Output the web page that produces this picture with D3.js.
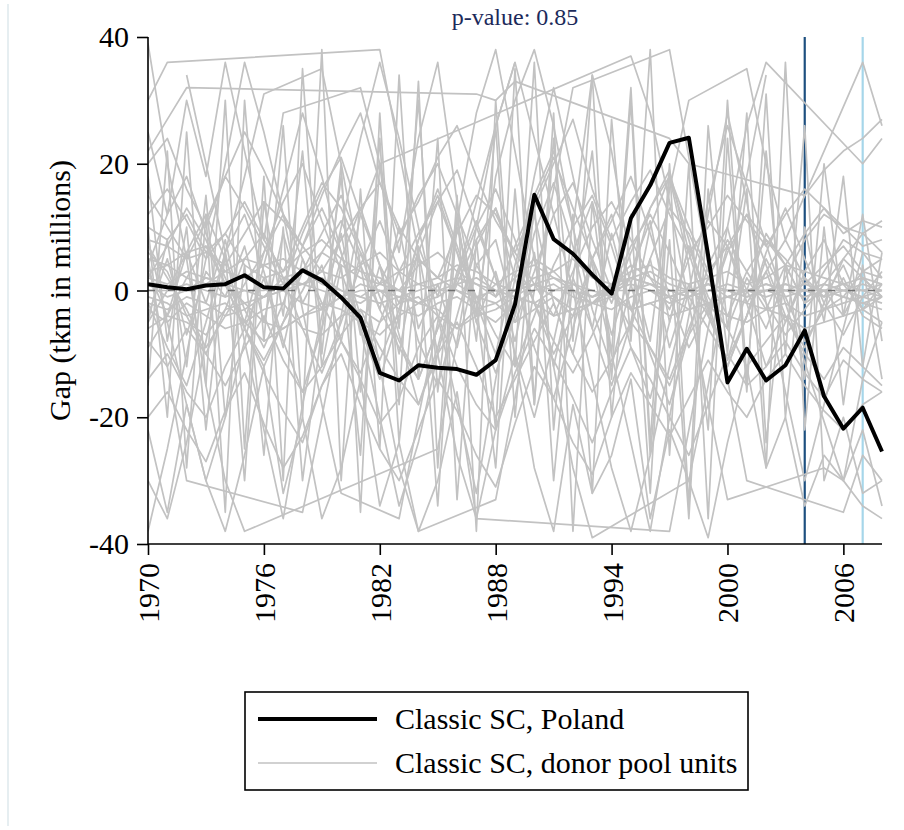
<!DOCTYPE html>
<html>
<head>
<meta charset="utf-8">
<script src="https://cdn.jsdelivr.net/npm/d3@7"></script>
<style>
  body { margin: 0; background: #ffffff; }
  text { font-family: "Liberation Serif", "DejaVu Serif", serif; fill: #000; }
</style>
</head>
<body>
<div id="chart"></div>
<script>
// years 1970 - 2008
var years = d3.range(1970, 2009);
var xTicks = [1970, 1976, 1982, 1988, 1994, 2000, 2006];
var yTicks = [-40, -20, 0, 20, 40];
var treatYear = 2004;   // dark blue marker
var lastYear = 2007;    // light blue marker
var pValueLabel = 'p-value: 0.85';
var legendLabels = ['Classic SC, Poland', 'Classic SC, donor pool units'];

// gap for Poland
var poland = [1.0, 0.5, 0.2, 0.8, 1.0, 2.4, 0.5, 0.3, 3.2, 1.6,
  -1.1, -4.3, -13.0, -14.2, -11.8, -12.2, -12.4, -13.3, -11.0, -2.2,
  15.1, 8.1, 5.8, 2.5, -0.5, 11.4, 16.6, 23.3, 24.1, 5.5,
  -14.5, -9.2, -14.2, -11.8, -6.3, -16.7, -21.8, -18.5, -25.4];

// placebo gaps of donor units (null = outside the plotted range)
var donors = [
  [2,1,3,2,1,0,-1,2,3,1,0,-1,-2,-1,0,1,2,1,0,-1,1,2,0,-1,1,2,1,0,-1,0,1,0,0,1,0,-1,0,1,0],
  [-2,-3,-1,-2,-4,-3,-1,0,-2,-3,-1,1,0,-1,-2,0,1,-1,-2,0,1,-1,-3,-2,0,1,0,-1,0,1,0,0,-1,0,1,0,0,0,-1],
  [5,4,6,7,3,2,4,5,3,6,4,2,1,3,5,2,0,-2,1,3,4,2,1,0,-1,2,3,1,0,-2,-1,0,1,0,0,1,0,0,0],
  [-6,-4,-5,-7,-3,-2,-5,-6,-4,-3,-1,-2,0,-3,-4,-2,-1,-3,-5,-2,0,1,-1,-2,-3,-1,0,-2,-1,0,0,-1,0,0,-1,0,-1,-2,-1],
  [8,7,5,6,9,4,2,3,6,8,5,3,2,0,4,6,3,1,-1,2,5,3,0,-2,1,4,2,0,-1,1,0,-1,0,1,0,0,-1,-2,-3],
  [0,0,1,0,-1,0,0,1,1,0,-1,0,0,0,1,0,0,-1,0,0,1,0,0,-1,0,0,1,0,0,0,0,0,1,0,0,0,1,0,1],
  [1,-1,0,2,1,-2,-1,0,1,2,0,-1,1,0,-2,-1,1,2,0,-1,-2,0,1,-1,0,2,1,-1,0,1,-1,0,0,-1,0,1,0,-1,0],
  [-3,-5,-2,-4,-6,-5,-3,-2,-6,-7,-4,-3,-5,-2,-1,-4,-6,-3,-2,-5,-3,-1,-4,-2,0,-3,-2,-1,-3,-2,-4,-5,-3,-4,-6,-5,-4,-3,-5],
  [3,4,2,1,3,5,4,2,1,3,2,4,6,3,1,2,4,3,1,0,2,3,5,2,1,3,4,2,1,2,3,1,2,4,3,2,1,2,1],
  [-1,-2,-4,-3,-2,-5,-8,-6,-4,-2,-3,-5,-7,-4,-2,-3,-6,-4,-3,-1,-2,-4,-3,-2,-1,-3,-2,-4,-3,-2,-1,-2,-3,-2,-4,-3,-2,-1,-2],
  [10,8,12,6,4,9,14,11,7,3,8,13,17,10,5,2,9,15,12,6,1,-4,3,10,14,8,2,-3,5,11,7,0,-6,2,8,12,10,9,11],
  [-8,-12,-6,-10,-15,-9,-4,-11,-16,-12,-7,-3,-9,-14,-18,-10,-5,-12,-20,-14,-8,-2,-10,-16,-11,-5,-9,-15,-7,-2,-6,-12,-8,-4,-10,-14,-9,-12,-15],
  [4,12,18,9,2,-5,6,14,20,11,3,-6,-14,-4,8,16,7,-2,-10,4,15,22,10,-3,-12,1,13,19,6,-4,-11,0,9,4,-2,3,8,6,5],
  [-2,-9,-15,-5,6,12,3,-8,-16,-6,5,13,4,-7,-18,-9,3,11,2,-10,-20,-8,6,14,3,-9,-17,-5,7,-2,-12,-4,5,-1,-8,-3,2,-4,-6],
  [15,10,5,11,18,13,7,1,9,16,21,12,4,-2,6,14,19,10,2,-5,3,12,17,8,0,-6,5,13,9,2,-4,3,8,5,1,4,7,3,2],
  [-14,-10,-16,-20,-12,-6,-13,-19,-24,-15,-8,-14,-21,-17,-9,-4,-12,-18,-22,-13,-6,-11,-17,-24,-16,-9,-14,-20,-26,-18,-10,-15,-12,-8,-13,-17,-11,-14,-16],
  [6,3,-4,-10,-3,5,9,2,-6,-13,-5,4,11,3,-8,-15,-4,7,13,2,-9,-17,-6,5,12,1,-10,-18,-7,4,10,-2,-12,-5,3,8,1,-3,-1],
  [20,24,16,10,18,25,19,12,7,15,22,28,17,9,14,21,26,18,11,6,13,20,27,16,8,14,19,12,6,10,15,11,7,12,16,13,9,11,10],
  [-20,-16,-22,-27,-19,-13,-21,-28,-23,-15,-10,-18,-25,-30,-22,-14,-19,-26,-31,-21,-12,-17,-24,-29,-20,-13,-18,-23,-17,-11,-16,-20,-14,-10,-15,-19,-22,-18,-16],
  [2,7,13,8,1,-6,-12,-5,3,9,15,7,-1,-8,-14,-6,2,10,16,8,-2,-10,-4,5,11,18,9,-1,-9,-3,6,12,4,-4,-9,-2,5,9,6],
  [-5,0,6,12,5,-3,-9,-2,7,13,6,-4,-11,-3,8,15,6,-5,-13,-4,9,17,7,-6,-15,-5,10,18,8,-3,-12,-4,6,13,5,-2,-7,-1,3],
  [12,16,11,5,9,14,8,3,10,17,13,6,1,8,15,20,12,4,-1,7,14,21,13,5,-2,6,13,18,10,3,7,12,8,4,9,13,10,7,8],
  [22,27,32,null,null,null,null,null,null,null,null,null,null,null,null,null,null,31,30,33,null,null,null,null,null,null,null,24,20,null,null,null,null,null,15,19,22,24,27],
  [5,-12,-30,null,null,null,null,null,-35,-20,-4,12,20,null,null,null,null,null,null,null,null,null,null,null,null,37,28,14,-2,-18,-33,null,null,null,null,-28,-30,-34,-36],
  [39,20,5,-15,-30,-38,null,null,null,null,null,null,null,null,null,-25,-8,10,26,36,null,null,null,null,null,null,null,null,null,null,null,null,null,null,null,null,null,null,null],
  [-38,-25,-10,5,20,36,25,12,-3,-18,-32,null,null,-36,-20,-5,11,28,38,22,5,-12,-28,-39,null,null,null,null,-30,-15,2,18,34,null,null,null,null,null,null],
  [30,36,null,null,null,null,null,null,null,null,null,null,38,22,6,-10,-26,-36,null,null,null,null,null,null,null,null,null,-38,-22,-6,10,26,36,null,null,null,null,20,24],
  [-30,-36,-24,-8,6,18,31,null,null,35,20,4,-12,-28,-38,null,null,null,-33,-17,0,16,32,null,null,null,null,38,21,4,-14,-30,null,null,null,null,-35,-26,-30],
  [10,-20,25,-15,30,-25,18,-30,35,-10,20,-35,28,-18,33,-28,15,-38,30,-12,36,-22,12,-32,27,-8,38,-26,20,-36,24,-16,31,-20,10,-5,18,-12,6],
  [-15,22,-28,12,-35,30,-8,26,-20,38,-30,16,-25,34,-14,24,-33,8,-22,35,-18,28,-38,14,-10,32,-24,20,-34,26,-6,16,-28,36,-22,10,-18,4,-14],
  [25,12,30,18,36,22,8,28,null,null,null,32,20,6,24,36,14,-4,18,30,38,26,10,34,22,4,-8,16,30,null,null,35,20,8,null,null,null,36,26],
  [-22,-35,-18,-30,-38,-26,-12,-32,-20,-36,-28,-14,-34,-24,-38,-30,-16,-36,-22,-10,-28,-38,-18,-32,-26,-14,-36,-22,-30,-39,-24,-12,-28,-20,-34,-26,-30,-22,-34],
  [8,-5,-18,-30,-20,-8,4,16,28,18,6,-6,-20,-34,-24,-10,2,14,26,36,24,12,0,-14,-28,-38,-26,-12,0,14,26,null,null,null,null,null,-30,-14,-5],
  [null,null,34,20,6,-8,-22,-36,-18,-4,10,24,36,24,10,-4,-18,-32,-14,2,18,32,18,4,-10,-24,-38,-20,-4,12,28,14,-2,-16,-30,-18,-6,6,2],
  [-5,8,-12,15,-20,4,-26,10,-30,-6,18,-16,24,-24,6,-34,12,-8,26,-20,14,-30,2,22,-14,30,-26,8,-36,16,-10,28,-24,4,-14,20,-4,12,-8],
  [18,-8,10,-22,6,-30,14,-4,22,-12,4,-26,20,-6,30,-16,10,-2,-28,16,-18,24,-8,34,-20,12,-32,18,4,-22,30,-14,22,-10,26,-30,-20,-32,-30],
  [3,-4,6,-2,8,-6,2,-9,5,-3,9,-7,4,-10,7,-1,11,-5,3,-8,6,-12,2,-6,9,-3,5,-9,1,-4,7,-2,3,-5,2,-1,4,-3,1],
  [-4,5,-7,3,-1,7,-5,9,-2,4,-8,6,-3,10,-6,1,-9,4,8,-4,12,-2,-10,5,-7,3,11,-5,7,-1,-6,2,-3,4,-2,0,-4,2,-1],
  [7,2,-3,-9,-4,1,6,12,5,-2,-8,-13,-5,3,9,14,6,-1,-7,-12,-4,4,10,15,7,-3,-9,-14,-6,2,8,3,-2,-7,-3,1,5,2,-1],
  [-9,-4,2,7,1,-6,-11,-5,0,6,11,4,-3,-9,-14,-6,1,8,13,5,-2,-8,-13,-7,0,7,12,6,-1,-6,-11,-4,3,8,2,-3,-1,3,5]
];

var gapChart = {

    config: {
        w: 904,
        h: 830,
        left: 148,
        right: 882,
        top: 37,
        bottom: 544,

        donorColor: '#c2c2c2',
        polandColor: '#000000',
        treatColor: '#1d4f7f',
        lastColor: '#a6d6ea',
        titleColor: '#1c2a5a',
        fontSize: 30,
    },

    run: function() {
        var c = gapChart.config;

        var svg = d3.select('#chart').append('svg')
            .attr('width', c.w)
            .attr('height', c.h);

        // faint page border on the left
        svg.append('line')
            .attr('x1', 8).attr('x2', 8)
            .attr('y1', 4).attr('y2', 826)
            .attr('stroke', '#e6eef1')
            .attr('stroke-width', 2);

        var x = d3.scaleLinear().domain([1970, 2008]).range([c.left, c.right]);
        var y = d3.scaleLinear().domain([-40, 40]).range([c.bottom, c.top]);

        svg.append('clipPath').attr('id', 'plotclip')
            .append('rect')
            .attr('x', c.left).attr('y', c.top - 2)
            .attr('width', c.right - c.left + 2)
            .attr('height', c.bottom - c.top + 2);

        var plot = svg.append('g').attr('clip-path', 'url(#plotclip)');

        // vertical markers sit beneath the lines
        plot.append('line')
            .attr('x1', x(treatYear)).attr('x2', x(treatYear))
            .attr('y1', y(40)).attr('y2', y(-40))
            .attr('stroke', c.treatColor).attr('stroke-width', 2.2);
        plot.append('line')
            .attr('x1', x(lastYear)).attr('x2', x(lastYear))
            .attr('y1', y(40)).attr('y2', y(-40))
            .attr('stroke', c.lastColor).attr('stroke-width', 2.2);

        var line = d3.line()
            .x(function(d) { return x(d.year); })
            .y(function(d) { return y(d.value); });

        // missing values are skipped, so the line joins the points around them
        donors.forEach(function(series) {
            var pts = [];
            series.forEach(function(v, i) {
                if (v !== null) pts.push({ year: years[i], value: v });
            });
            plot.append('path')
                .datum(pts)
                .attr('d', line)
                .attr('fill', 'none')
                .attr('stroke', c.donorColor)
                .attr('stroke-width', 1.7)
                .attr('stroke-linejoin', 'round');
        });

        // zero reference
        plot.append('line')
            .attr('x1', x(1970)).attr('x2', x(2008))
            .attr('y1', y(0)).attr('y2', y(0))
            .attr('stroke', '#555').attr('stroke-width', 1.6)
            .attr('stroke-opacity', 0.75)
            .attr('stroke-dasharray', '7,13');

        plot.append('path')
            .datum(poland.map(function(v, i) { return { year: years[i], value: v }; }))
            .attr('d', line)
            .attr('fill', 'none')
            .attr('stroke', c.polandColor)
            .attr('stroke-width', 4)
            .attr('stroke-linejoin', 'round');

        // axes (plain hyphen for negatives)
        var fmt = function(d) { return String(d); };
        var yAxis = svg.append('g')
            .attr('transform', 'translate(' + c.left + ',0)')
            .call(d3.axisLeft(y).tickValues(yTicks).tickFormat(fmt)
                .tickSize(11).tickPadding(8));
        var xAxis = svg.append('g')
            .attr('transform', 'translate(0,' + c.bottom + ')')
            .call(d3.axisBottom(x).tickValues(xTicks).tickFormat(fmt)
                .tickSize(11).tickPadding(8));

        [yAxis, xAxis].forEach(function(a) {
            a.select('.domain').attr('stroke', '#000').attr('stroke-width', 1.6);
            a.selectAll('.tick line').attr('stroke', '#000').attr('stroke-width', 1.6);
            a.selectAll('text')
                .style('font-family', '"Liberation Serif", serif')
                .style('font-size', c.fontSize + 'px')
                .attr('fill', '#000');
        });
        // stata-like axis ends without outer ticks
        yAxis.select('.domain').attr('d', 'M0,' + c.top + 'V' + c.bottom);
        xAxis.select('.domain').attr('d', 'M' + c.left + ',0H' + c.right);

        xAxis.selectAll('text')
            .attr('text-anchor', 'end')
            .attr('transform', 'rotate(-90)')
            .attr('x', -19)
            .attr('y', 0)
            .attr('dy', '0.35em');

        // axis title
        svg.append('text')
            .attr('transform', 'translate(70,' + y(0) + ') rotate(-90)')
            .attr('text-anchor', 'middle')
            .style('font-size', '30px')
            .text('Gap (tkm in millions)');

        // p-value note
        svg.append('text')
            .attr('x', (c.left + c.right) / 2)
            .attr('y', 25)
            .attr('text-anchor', 'middle')
            .style('font-size', '24px')
            .style('fill', c.titleColor)
            .text(pValueLabel);

        // legend
        var lg = svg.append('g').attr('transform', 'translate(245,692)');
        lg.append('rect')
            .attr('width', 503).attr('height', 98)
            .attr('fill', '#fff')
            .attr('stroke', '#000').attr('stroke-width', 1.6);
        var items = [
            { label: legendLabels[0], color: c.polandColor, width: 4 },
            { label: legendLabels[1], color: c.donorColor, width: 1.7 },
        ];
        items.forEach(function(d, i) {
            var yy = 27 + i * 44;
            lg.append('line')
                .attr('x1', 13).attr('x2', 132)
                .attr('y1', yy).attr('y2', yy)
                .attr('stroke', d.color).attr('stroke-width', d.width);
            lg.append('text')
                .attr('x', 150).attr('y', yy)
                .attr('dy', '0.33em')
                .style('font-size', c.fontSize + 'px')
                .text(d.label);
        });
    },
};

gapChart.run();
</script>
</body>
</html>
